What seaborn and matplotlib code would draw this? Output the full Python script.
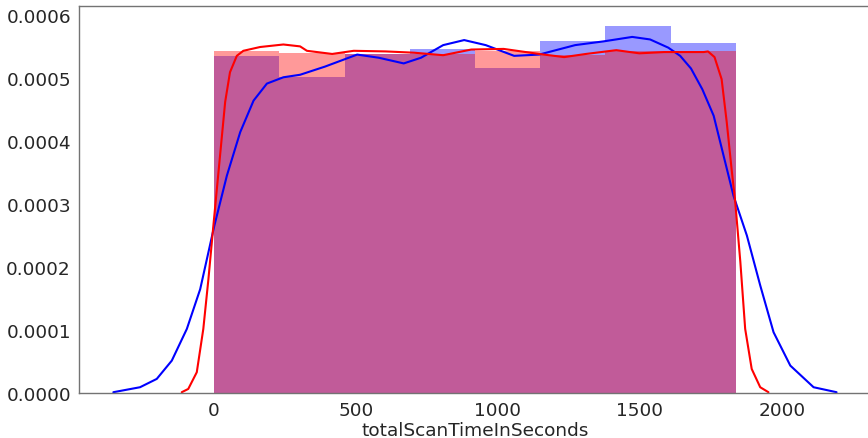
import numpy as np
import pandas as pd
import matplotlib
matplotlib.use("Agg")
import matplotlib.pyplot as plt
import seaborn as sns

# Histogram bins (seconds) and densities
bin_edges = [0, 229.75, 459.5, 689.25, 919, 1148.75, 1378.5, 1608.25, 1838]
blue_density = [0.000534, 0.000502, 0.000538, 0.000546, 0.000515, 0.000559, 0.000582, 0.000556]
red_density = [0.000542, 0.000540, 0.000538, 0.000538, 0.000542, 0.000537, 0.000542, 0.000542]

# KDE curves
blue_kde_x = [-355, -261, -202, -149, -96, -49, 1, 45, 92, 139, 186, 244, 303, 391, 504, 580, 668,
              729, 807, 881, 957, 1057, 1145, 1272, 1373, 1473, 1536, 1600, 1642, 1680, 1720,
              1760, 1830, 1877, 1924, 1971, 2030, 2112, 2193]
blue_kde_y = [0.0000016, 0.0000095, 0.0000227, 0.0000517, 0.000102, 0.000165, 0.000266, 0.000345,
              0.000414, 0.000464, 0.000491, 0.000501, 0.000505, 0.000518, 0.000537, 0.000532, 0.000523,
              0.000532, 0.000552, 0.000560, 0.000552, 0.000535, 0.000537, 0.000552, 0.000558, 0.000565,
              0.000561, 0.000548, 0.000535, 0.000515, 0.000482, 0.000440, 0.000313, 0.000250,
              0.000171, 0.0000967, 0.0000438, 0.0000095, 0.0000016]
red_kde_x = [-114, -91, -61, -38, -20, -2.5, 21, 39, 56, 80, 103, 162, 244, 303, 327, 416, 492, 605,
             704, 807, 906, 1020, 1145, 1233, 1310, 1417, 1498, 1586, 1725, 1740, 1763, 1788, 1806,
             1823, 1836, 1854, 1871, 1894, 1924, 1953]
red_kde_y = [0.0000016, 0.0000068, 0.0000333, 0.000102, 0.000181, 0.000266, 0.000377, 0.000462,
             0.000509, 0.000535, 0.000543, 0.000549, 0.000553, 0.000550, 0.000543, 0.000538, 0.000543,
             0.000542, 0.000540, 0.000536, 0.000545, 0.000546, 0.000538, 0.000533, 0.000538, 0.000544,
             0.000539, 0.000541, 0.000541, 0.000542, 0.000533, 0.000498, 0.000430, 0.000356, 0.000303,
             0.000208, 0.000102, 0.0000385, 0.0000095, 0.0000016]

x_label = "totalScanTimeInSeconds"

sns.set_style("white")
plt.rcParams['font.family'] = ['DejaVu Sans']

fig = plt.figure(figsize=(8.68, 4.39), dpi=100)
# axes runs slightly past the right edge of the figure (right spine is cut off)
ax = fig.add_axes([0.091, 0.102, 0.914, 0.882])

centers = [(a + b) / 2 for a, b in zip(bin_edges[:-1], bin_edges[1:])]
hist_df = pd.DataFrame({"t": centers, "blue": blue_density, "red": red_density})
sns.histplot(data=hist_df, x="t", weights="blue", bins=bin_edges, stat="count",
             color="blue", alpha=0.4, edgecolor="none", linewidth=0, ax=ax)
sns.histplot(data=hist_df, x="t", weights="red", bins=bin_edges, stat="count",
             color="red", alpha=0.4, edgecolor="none", linewidth=0, ax=ax)

blue_df = pd.DataFrame({"x": blue_kde_x, "y": blue_kde_y})
red_df = pd.DataFrame({"x": red_kde_x, "y": red_kde_y})
sns.lineplot(data=blue_df, x="x", y="y", color="blue", linewidth=1.5, sort=False, ax=ax)
sns.lineplot(data=red_df, x="x", y="y", color="red", linewidth=1.5, sort=False, ax=ax)

ax.set_xlim(-476, 2319)
ax.set_ylim(0, 0.000614)
ax.set_xticks([0, 500, 1000, 1500, 2000])
ax.set_yticks([0, 0.0001, 0.0002, 0.0003, 0.0004, 0.0005, 0.0006])
ax.set_yticklabels([f"{v:.4f}" for v in [0, 0.0001, 0.0002, 0.0003, 0.0004, 0.0005, 0.0006]])
ax.set_xlabel(x_label, fontsize=13.3, color="#262626", labelpad=1)
ax.set_ylabel("")
ax.tick_params(axis="both", labelsize=13.3, colors="#262626", length=3.3, width=0.8,
               color="0.5", pad=2.5)
for s in ax.spines.values():
    s.set_color("0.45")
    s.set_linewidth(1.0)

fig.savefig("out.png", dpi=100)
